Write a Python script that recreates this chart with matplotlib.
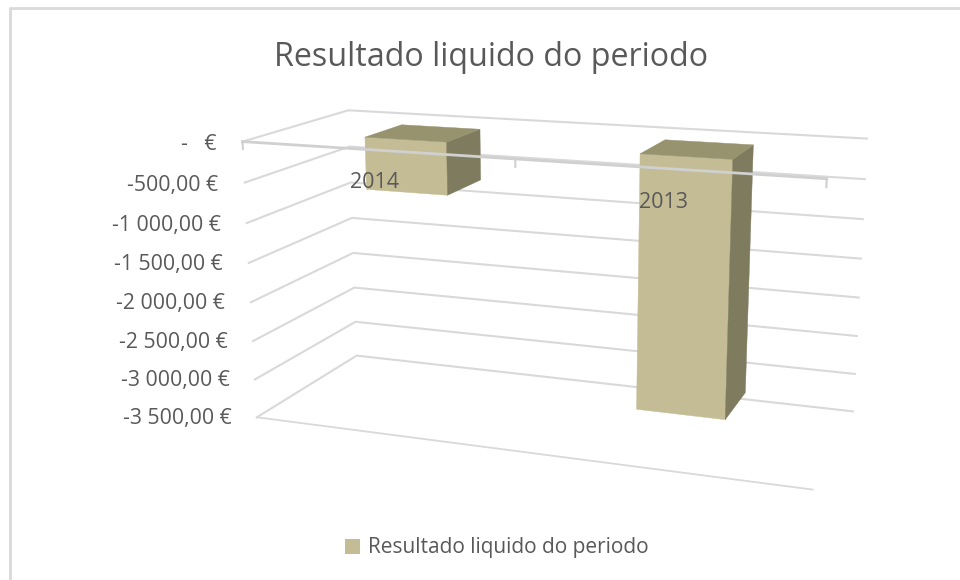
import numpy as np
import matplotlib
matplotlib.use("Agg")
import matplotlib.pyplot as plt
from mpl_toolkits.mplot3d import proj3d
from mpl_toolkits.mplot3d.art3d import Poly3DCollection
from matplotlib.patches import Patch
from matplotlib.lines import Line2D

title = "Resultado liquido do periodo"
series_name = "Resultado liquido do periodo"
categories = ["2014", "2013"]
values = [-650, -3100]
y_ticks = [0, -500, -1000, -1500, -2000, -2500, -3000, -3500]
y_labels = ["-   €", "-500,00 €", "-1 000,00 €", "-1 500,00 €", "-2 000,00 €",
            "-2 500,00 €", "-3 000,00 €", "-3 500,00 €"]

GRID = '#D9D9D9'
TEXT = '#595959'
FRONT, SIDE, TOP = '#C4BC94', '#7F7B5E', '#97936F'
BAR_W, D0, D1 = 0.31, 0.30, 0.68

plt.rcParams['font.family'] = ['Open Sans', 'DejaVu Sans']
fig = plt.figure(figsize=(9.6, 5.8), dpi=100)

# 3D axes with the camera of the reference chart
left, bottom, side = 221.2, 615.73, 653.03
ax = fig.add_axes([left/960, 1-bottom/580, side/960, side/580], projection='3d')
ax.computed_zorder = False
ax.set_xlim(0, len(categories)); ax.set_ylim(0, 1); ax.set_zlim(min(y_ticks), max(y_ticks))
ax.view_init(elev=14.6013, azim=-70.2684, roll=0.0032)
ax.set_proj_type('persp', focal_length=float(np.exp(-0.83164)))
ax.set_box_aspect((float(np.exp(0.69599)), float(np.exp(-0.24047)), 1.0))
ax.set_axis_off()
xmax = len(categories)

def label3d(x, y, z, s, **kw):
    u, v, _ = proj3d.proj_transform(x, y, z, ax.get_proj())
    ax.text2D(u, v, s, transform=ax.transData, color=TEXT, zorder=6, **kw)

# walls
for v in y_ticks:
    ax.plot([0, 0, xmax], [0, 1, 1], [v, v, v], color=GRID, lw=1.5, zorder=1)
ax.plot([0, xmax], [0, 0], [min(y_ticks)]*2, color=GRID, lw=1.3, zorder=1)

# bars
for i, val in enumerate(values):
    c = i + 0.5
    x0, x1 = c - BAR_W/2, c + BAR_W/2
    faces = [[(x0, D0, 0), (x1, D0, 0), (x1, D0, val), (x0, D0, val)],
             [(x1, D0, 0), (x1, D1, 0), (x1, D1, val), (x1, D0, val)],
             [(x0, D0, 0), (x1, D0, 0), (x1, D1, 0), (x0, D1, 0)]]
    for f, col in zip(faces, (FRONT, SIDE, TOP)):
        ax.add_collection3d(Poly3DCollection([f], facecolors=col, edgecolors=col,
                                             linewidths=0.3, shade=False, zorder=3))

# category axis on top of the bars
ax.plot([0, xmax], [0, 0], [0, 0], color='#D0D0D0', lw=2.0, zorder=4)
for t in range(xmax + 1):
    ax.plot([t, t], [0, 0], [0, -90], color='#D0D0D0', lw=1.5, zorder=4)

for i, cat in enumerate(categories):
    label3d(i + 0.495, 0, -380, cat, ha='center', va='center', fontsize=15.5)
for v, lab in zip(y_ticks, y_labels):
    label3d(-0.105, 0, v - 55, lab, ha='right', va='center', fontsize=15.3)

fig.text(491/960, 1-57/580, title, ha='center', va='center', color=TEXT, fontsize=23.2)

# outer border of the chart area (top and left only are in the crop)
fig.add_artist(Line2D([10/960, 10/960, 1], [0, 1-8/580, 1-8/580], color=GRID, lw=2.0))

fig.legend(handles=[Patch(facecolor=FRONT, edgecolor='none', label=series_name)],
           loc='center', bbox_to_anchor=(497/960, 1-548/580), frameon=False, fontsize=15.0,
           labelcolor=TEXT, handlelength=0.72, handleheight=0.72, handletextpad=0.4)

fig.savefig('out.png', dpi=100)
